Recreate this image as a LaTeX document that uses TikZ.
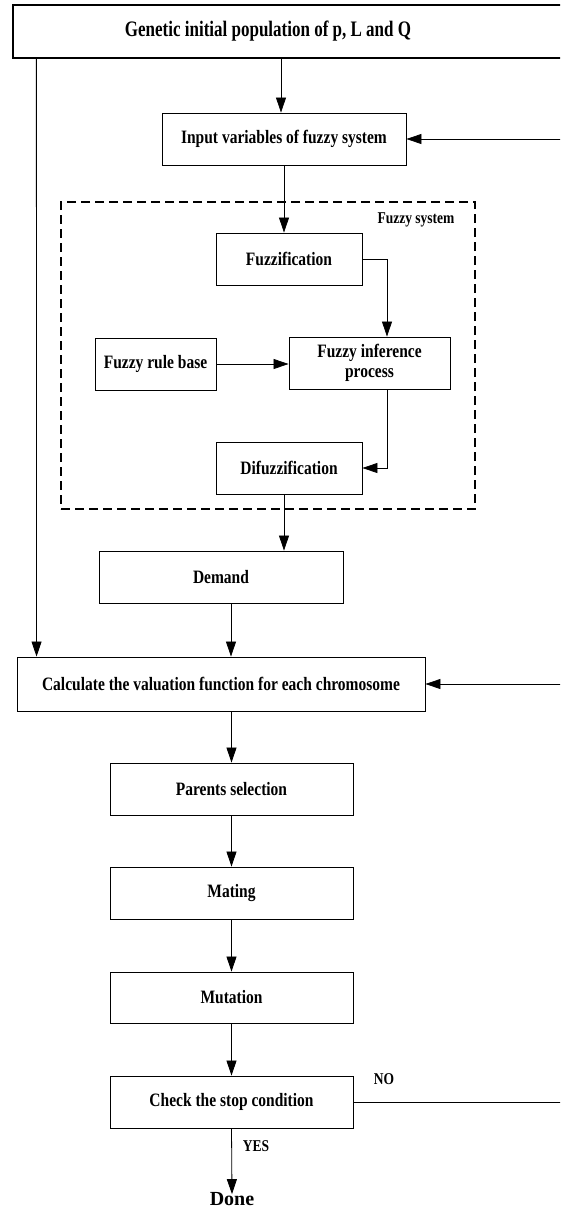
\documentclass[tikz,border=0pt]{standalone}
\usepackage{fontspec}
\usepackage{graphicx}
\setmainfont{Liberation Serif}
\usetikzlibrary{arrows.meta,calc}
\newcommand{\tallt}[1]{\scalebox{1}[1.22]{#1}}
\begin{document}
\begin{tikzpicture}[x=1pt,y=-1pt,
  box/.style={draw,line width=0.9pt,inner sep=0pt,font=\fontsize{15.5}{16.4}\selectfont\bfseries,align=center},
  arr/.style={line width=0.8pt,-{Triangle[length=15pt,width=10pt]}},
  ln/.style={line width=0.8pt},
  lbl/.style={font=\fontsize{13.5}{15}\selectfont\bfseries,inner sep=0pt}]
\useasboundingbox (0,0) rectangle (560,1211);
\clip (0,0) rectangle (560,1211);
\fill[white] (0,0) rectangle (560,1211);
% nodes
\node[box,line width=1.3pt,minimum width=600,minimum height=53] (top) at (313,31.5) {};
\node[font=\fontsize{17}{20}\selectfont\bfseries,inner sep=0pt] (toptxt) at (268,31) {\scalebox{1}[1.3]{Genetic initial population of p, L and Q}};
\node[box,minimum width=244,minimum height=52] (in) at (284,139) {\tallt{Input variables of fuzzy system}};
\node[draw,dashed,dash pattern=on 9pt off 5pt,line width=1.3pt,minimum width=414,minimum height=307,inner sep=0pt] (fs) at (268,355.5) {};
\node[lbl] (fslbl) at (416,220) {\tallt{Fuzzy system}};
\node[box,minimum width=146,minimum height=52] (fz) at (289,259) {\tallt{Fuzzification}};
\node[box,minimum width=121,minimum height=52] (rb) at (155.5,364) {\tallt{Fuzzy rule base}};
\node[box,minimum width=161,minimum height=52] (inf) at (369.5,363) {\tallt{\begin{tabular}{@{}c@{}}Fuzzy inference\\process\end{tabular}}};
\node[box,minimum width=146,minimum height=52] (dfz) at (289,468) {\tallt{Difuzzification}};
\node[box,minimum width=244,minimum height=52] (dm) at (221,577) {\tallt{Demand}};
\node[box,minimum width=408,minimum height=54] (calc) at (221,684) {\tallt{Calculate the valuation function for each chromosome}};
\node[box,minimum width=243,minimum height=52] (ps) at (231.5,789) {\tallt{Parents selection}};
\node[box,minimum width=243,minimum height=52] (mt) at (231.5,893) {\tallt{Mating}};
\node[box,minimum width=243,minimum height=51] (mu) at (231.5,997.5) {\tallt{Mutation}};
\node[box,minimum width=243,minimum height=52] (ck) at (231.5,1102) {\tallt{Check the stop condition}};
\node[font=\fontsize{20}{22}\selectfont\bfseries,inner sep=0pt] (done) at (232,1199) {Done};
\node[lbl] (yes) at (256,1146) {\tallt{YES}};
\node[lbl] (no) at (384,1079) {\tallt{NO}};
\coordinate (rx) at (563,0);
% connectors
\draw[arr] ([xshift=-3]in.north |- top.south) -- ([xshift=-3]in.north);
\draw[arr] ([xshift=24]top.south west) -- ([xshift=20]calc.north west);
\draw[arr] (in.south) -- (in.south |- fz.north);
\draw[arr] (fz.east) -| ([xshift=17.5]inf.north);
\draw[arr] (rb.east) -- (rb.east -| inf.west);
\draw[arr] ([xshift=17.5]inf.south) |- (dfz.east);
\draw[arr] ([xshift=-5]dfz.south) -- ([xshift=-5]dfz.south |- dm.north);
\draw[arr] ([xshift=10]dm.south) -- ([xshift=10]dm.south |- calc.north);
\draw[arr] (calc.south -| ps.north) -- (ps.north);
\draw[arr] (ps.south) -- (mt.north);
\draw[arr] (mt.south) -- (mu.north);
\draw[arr] (mu.south) -- (ck.north);
\draw[arr] (ck.south) -- ([yshift=-2]done.north);
\draw[ln] (ck.east) -- (ck.east -| rx) -- (rx |- in.east);
\draw[arr] (rx |- in.east) -- (in.east);
\draw[arr] (rx |- calc.east) -- (calc.east);
\end{tikzpicture}
\end{document}
